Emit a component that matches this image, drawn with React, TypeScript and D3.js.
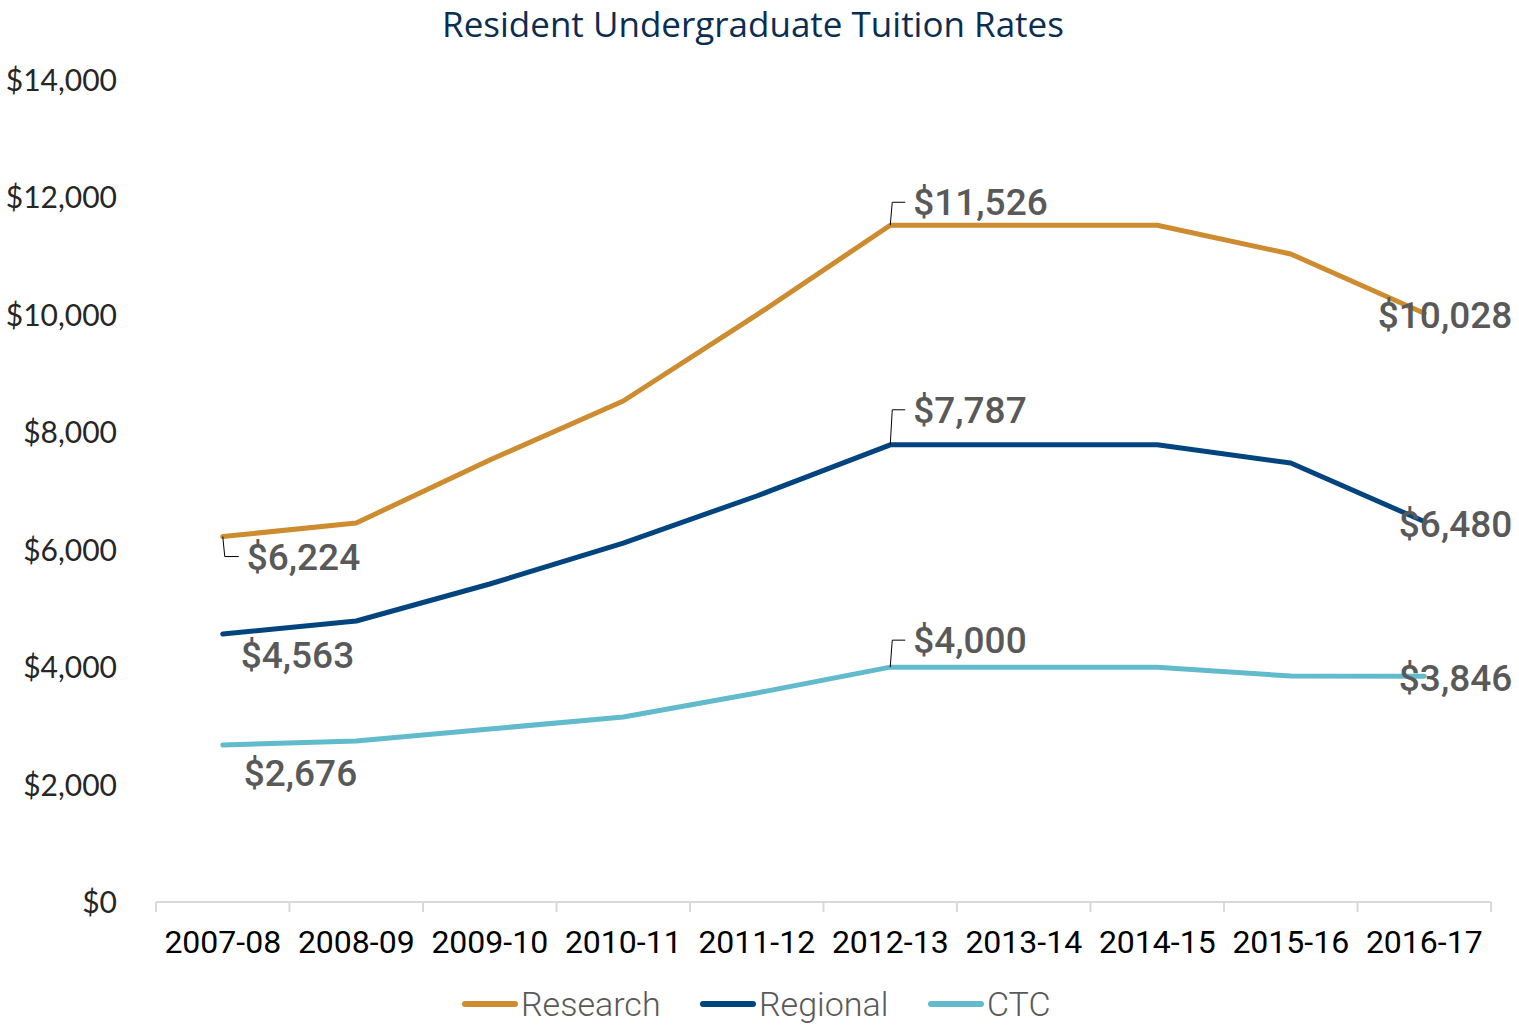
import * as d3 from "d3";

const width = 1519;
const height = 1026;
const margin = { top: 80, right: 28, bottom: 124, left: 156 };

const years = [
  "2007-08", "2008-09", "2009-10", "2010-11", "2011-12",
  "2012-13", "2013-14", "2014-15", "2015-16", "2016-17",
];
const research = [6224, 6455, 7528, 8533, 9998, 11526, 11526, 11526, 11036, 10028];
const regional = [4563, 4786, 5416, 6114, 6915, 7787, 7787, 7787, 7477, 6480];
const ctc = [2676, 2742, 2946, 3151, 3560, 4000, 4000, 4000, 3849, 3846];
const yTicks = [0, 2000, 4000, 6000, 8000, 10000, 12000, 14000];

const series = [
  { name: "Research", values: research, color: "#CC8C2F" },
  { name: "Regional", values: regional, color: "#02457E" },
  { name: "CTC", values: ctc, color: "#62BACD" },
];

// which points get a data label, and where it sits relative to the point
const labels = [
  { s: 0, i: 0, dx: 24, dy: 33, anchor: "start", leader: true },
  { s: 0, i: 5, dx: 23, dy: -10, anchor: "start", leader: true },
  { s: 0, i: 9, dx: 88, dy: 15, anchor: "end", leader: false },
  { s: 1, i: 0, dx: 18, dy: 34, anchor: "start", leader: false },
  { s: 1, i: 5, dx: 23, dy: -22, anchor: "start", leader: true },
  { s: 1, i: 9, dx: 88, dy: 15, anchor: "end", leader: false },
  { s: 2, i: 0, dx: 21, dy: 41, anchor: "start", leader: false },
  { s: 2, i: 5, dx: 23, dy: -14, anchor: "start", leader: true },
  { s: 2, i: 9, dx: 88, dy: 15, anchor: "end", leader: false },
];

const legendX = [463, 701, 929];

const fmt = d3.format("$,");

const App = () => {
  const x = d3
    .scaleBand()
    .domain(years)
    .range([margin.left, width - margin.right]);
  const y = d3
    .scaleLinear()
    .domain([0, 14000])
    .range([height - margin.bottom, margin.top]);

  const cx = (i: number) => (x(years[i]) as number) + x.bandwidth() / 2;
  const line = d3
    .line<number>()
    .x((_, i) => cx(i))
    .y((d) => y(d));

  const baseY = y(0);
  const tickXs = years.map((yr) => x(yr) as number).concat([width - margin.right]);

  return (
    <svg
      width={width}
      height={height}
      style={{ position: "absolute", left: 0, top: 0, background: "#fff" }}
    >
      <text
        x={753}
        y={37}
        textAnchor="middle"
        fill="#0B2D52"
        fontFamily="'Open Sans', sans-serif"
        fontSize={35}
      >
        Resident Undergraduate Tuition Rates
      </text>

      {yTicks.map((t) => (
        <text
          key={t}
          x={117}
          y={y(t) + 11}
          textAnchor="end"
          fill="#262626"
          fontFamily="Lato, sans-serif"
          fontSize={30}
        >
          {fmt(t)}
        </text>
      ))}

      <line
        x1={margin.left}
        x2={width - margin.right}
        y1={baseY}
        y2={baseY}
        stroke="#D9D9D9"
        strokeWidth={2}
      />
      {tickXs.map((tx, i) => (
        <line key={i} x1={tx} x2={tx} y1={baseY} y2={baseY + 10} stroke="#D9D9D9" strokeWidth={2} />
      ))}
      {years.map((yr, i) => (
        <text
          key={yr}
          x={cx(i)}
          y={953}
          textAnchor="middle"
          fill="#000"
          fontFamily="Roboto, sans-serif"
          fontSize={32}
        >
          {yr}
        </text>
      ))}

      {series.map((s) => (
        <path
          key={s.name}
          d={line(s.values) as string}
          fill="none"
          stroke={s.color}
          strokeWidth={5}
          strokeLinecap="round"
          strokeLinejoin="round"
        />
      ))}

      {labels.map((l, k) => {
        const v = series[l.s].values[l.i];
        const px = cx(l.i);
        const py = y(v);
        const tx = px + l.dx;
        const ty = py + l.dy;
        const mid = ty - 13;
        return (
          <g key={k}>
            {l.leader && (
              <polyline
                points={`${px},${py} ${px + 2},${mid} ${tx - 8},${mid}`}
                fill="none"
                stroke="#000"
                strokeWidth={1}
              />
            )}
            <text
              x={tx}
              y={ty}
              textAnchor={l.anchor}
              fill="#595959"
              fontFamily="Roboto, sans-serif"
              fontWeight={500}
              fontSize={37}
            >
              {fmt(v)}
            </text>
          </g>
        );
      })}

      {series.map((s, i) => (
        <g key={s.name} transform={`translate(${legendX[i]},1004)`}>
          <line x1={2} x2={52} y1={0} y2={0} stroke={s.color} strokeWidth={6} strokeLinecap="round" />
          <text
            x={58}
            y={12}
            fill="#595959"
            fontFamily="Roboto, sans-serif"
            fontWeight={300}
            fontSize={34}
          >
            {s.name}
          </text>
        </g>
      ))}
    </svg>
  );
};

export default App;
